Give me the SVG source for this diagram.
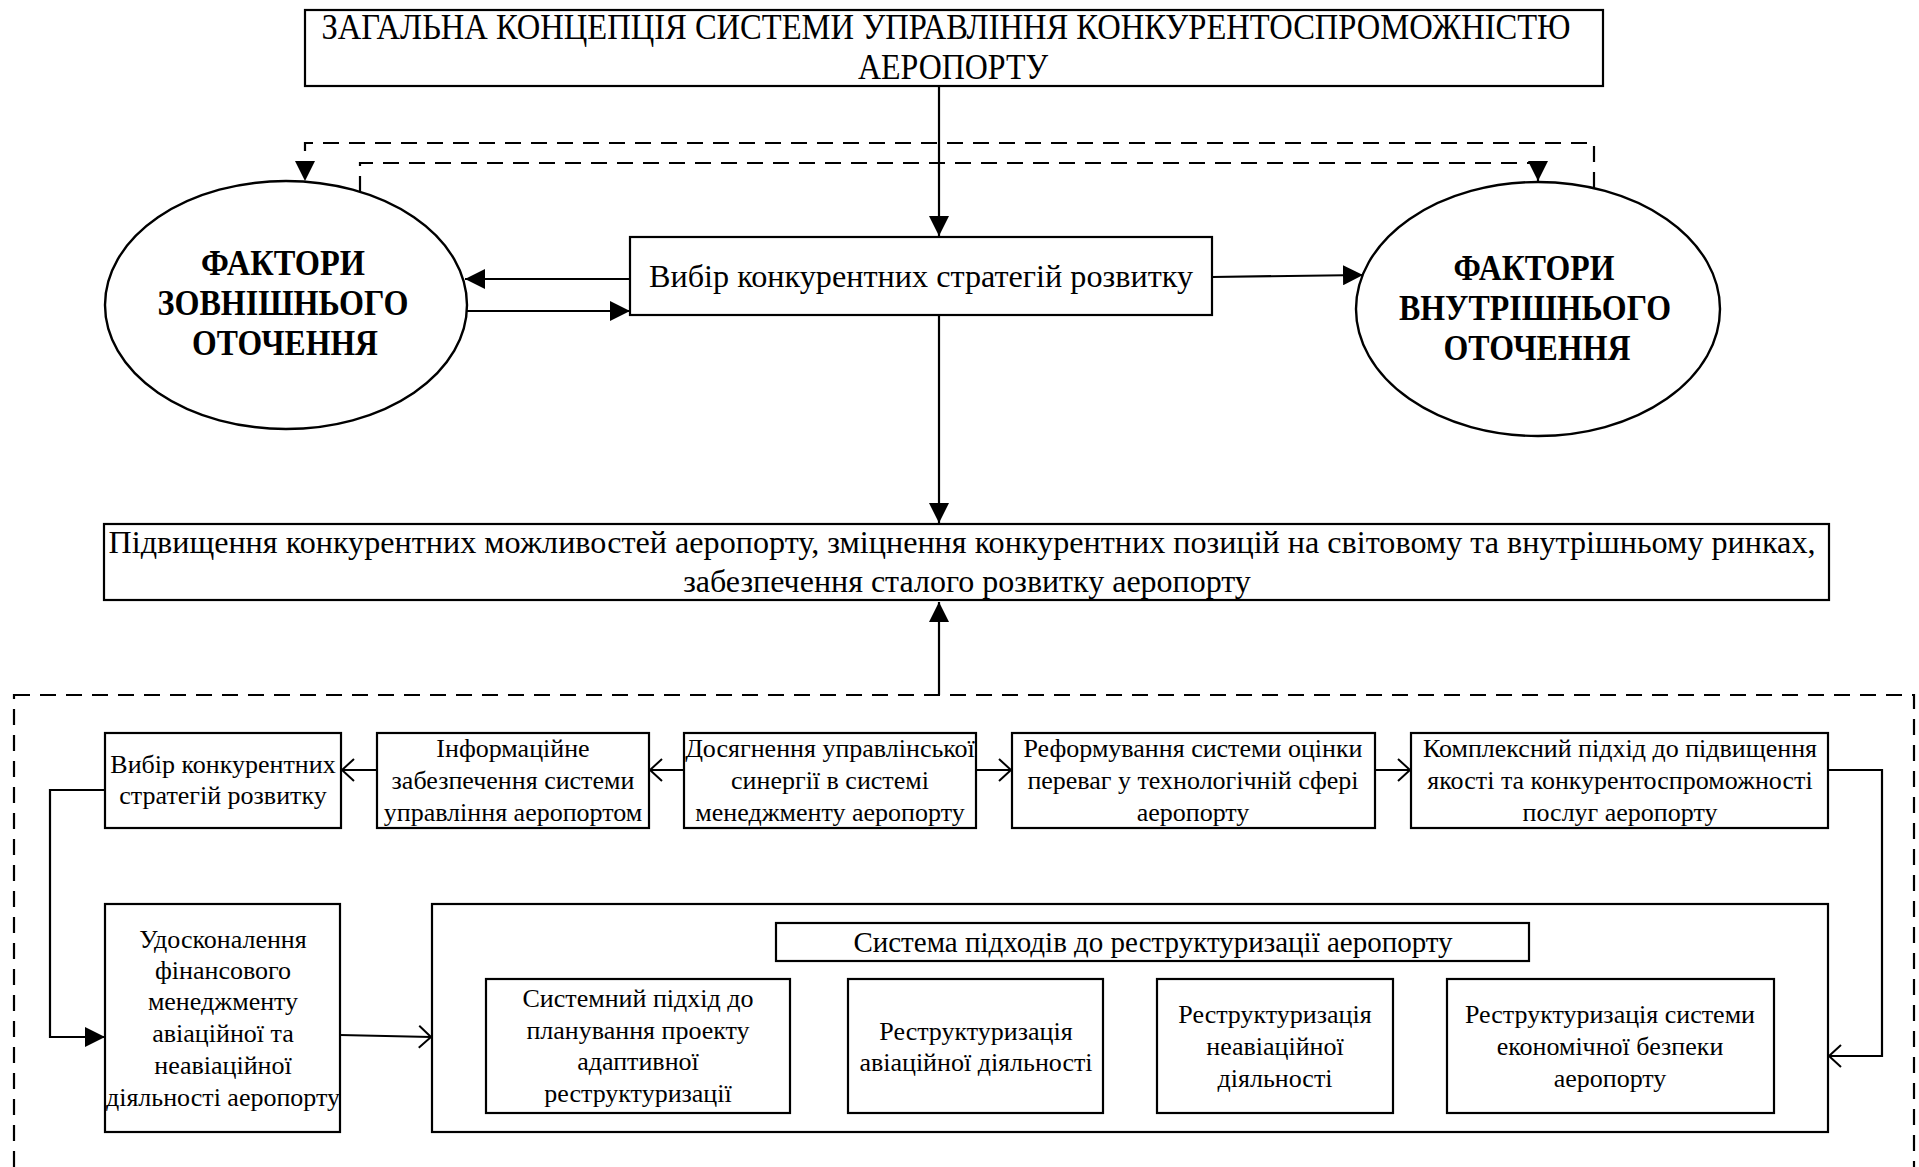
<svg xmlns="http://www.w3.org/2000/svg" width="1919" height="1167" viewBox="0 0 1919 1167">
  <defs>
    <style>
      .box { fill: #fff; stroke: #000; stroke-width: 2.2; }
      .oval { fill: #fff; stroke: #000; stroke-width: 2.4; }
      .t { font-family: "Liberation Serif", "Times New Roman", serif; fill: #000; text-anchor: middle; }
      .s26 { font-size: 26px; }
      .s29 { font-size: 29px; }
      .s32 { font-size: 32px; }
      .cap { font-size: 36px; }
      .bold { font-size: 36px; font-weight: bold; }
      .line { fill: none; stroke: #000; stroke-width: 2.2; }
      .dash { fill: none; stroke: #000; stroke-width: 2.2; stroke-dasharray: 16 10; }
    </style>
    <marker id="solid" markerUnits="userSpaceOnUse" markerWidth="20" markerHeight="20" refX="20" refY="10" orient="auto">
      <path d="M0,0 L20,10 L0,20 Z" fill="#000" stroke="none"/>
    </marker>
    <marker id="open" markerUnits="userSpaceOnUse" markerWidth="16" markerHeight="26" refX="13" refY="12" orient="auto">
      <path d="M1,1 L13,12 L1,23" fill="none" stroke="#000" stroke-width="2"/>
    </marker>
  </defs>

  <rect width="1919" height="1167" fill="#fff"/>

  <!-- outer dashed frame of the lower block -->
  <rect id="frame" x="14" y="695" width="1900" height="520" class="dash"/>

  <!-- connectors -->
  <g id="connectors">
    <line x1="939" y1="86" x2="939" y2="236" class="line" marker-end="url(#solid)"/>
    <line x1="630" y1="279" x2="465" y2="279" class="line" marker-end="url(#solid)"/>
    <line x1="467" y1="311" x2="630" y2="311" class="line" marker-end="url(#solid)"/>
    <line x1="1212" y1="277" x2="1363" y2="275" class="line" marker-end="url(#solid)"/>
    <path d="M1594,188 V143 H305 V181" class="dash" marker-end="url(#solid)"/>
    <path d="M360,192 V163 H1538 V181" class="dash" marker-end="url(#solid)"/>
    <line x1="939" y1="315" x2="939" y2="523" class="line" marker-end="url(#solid)"/>
    <line x1="939" y1="695" x2="939" y2="602" class="line" marker-end="url(#solid)"/>

    <line x1="377" y1="770" x2="342" y2="770" class="line" marker-end="url(#open)"/>
    <line x1="683" y1="770" x2="650" y2="770" class="line" marker-end="url(#open)"/>
    <line x1="976" y1="770" x2="1011" y2="770" class="line" marker-end="url(#open)"/>
    <line x1="1375" y1="770" x2="1410" y2="770" class="line" marker-end="url(#open)"/>
    <path d="M1828,770 H1882 V1056 H1829" class="line" marker-end="url(#open)"/>
    <path d="M105,790 H50 V1037 H105" class="line" marker-end="url(#solid)"/>
    <line x1="340" y1="1035" x2="431" y2="1037" class="line" marker-end="url(#open)"/>
    <line x1="790" y1="1036" x2="847" y2="1036" class="line" marker-end="url(#open)"/>
    <line x1="1103" y1="1036" x2="1156" y2="1036" class="line" marker-end="url(#open)"/>
    <line x1="1393" y1="1036" x2="1446" y2="1036" class="line" marker-end="url(#open)"/>
  </g>

  <g id="concept">
    <rect x="305" y="10" width="1298" height="76" class="box" stroke-width="2.6"/>
    <text class="t cap" x="946" y="39" textLength="1249" lengthAdjust="spacingAndGlyphs">ЗАГАЛЬНА КОНЦЕПЦІЯ СИСТЕМИ УПРАВЛІННЯ КОНКУРЕНТОСПРОМОЖНІСТЮ</text>
    <text class="t cap" x="953" y="79" textLength="190" lengthAdjust="spacingAndGlyphs">АЕРОПОРТУ</text>
  </g>

  <g id="external-factors">
    <ellipse cx="286" cy="305" rx="181" ry="124" class="oval"/>
    <text class="t bold" x="283" y="275" textLength="164" lengthAdjust="spacingAndGlyphs">ФАКТОРИ</text>
    <text class="t bold" x="283" y="315" textLength="251" lengthAdjust="spacingAndGlyphs">ЗОВНІШНЬОГО</text>
    <text class="t bold" x="285" y="355" textLength="186" lengthAdjust="spacingAndGlyphs">ОТОЧЕННЯ</text>
  </g>

  <g id="strategy-choice">
    <rect x="630" y="237" width="582" height="78" class="box"/>
    <text class="t s32" x="921" y="287" textLength="544" lengthAdjust="spacingAndGlyphs">Вибір конкурентних стратегій розвитку</text>
  </g>

  <g id="internal-factors">
    <ellipse cx="1538" cy="309" rx="182" ry="127" class="oval"/>
    <text class="t bold" x="1534" y="280" textLength="161" lengthAdjust="spacingAndGlyphs">ФАКТОРИ</text>
    <text class="t bold" x="1535" y="320" textLength="272" lengthAdjust="spacingAndGlyphs">ВНУТРІШНЬОГО</text>
    <text class="t bold" x="1537" y="360" textLength="187" lengthAdjust="spacingAndGlyphs">ОТОЧЕННЯ</text>
  </g>

  <g id="goal">
    <rect x="104" y="524" width="1725" height="76" class="box" stroke-width="2.6"/>
    <text class="t s32" x="962" y="553" textLength="1707" lengthAdjust="spacingAndGlyphs">Підвищення конкурентних можливостей аеропорту, зміцнення конкурентних позицій на світовому та внутрішньому ринках,</text>
    <text class="t s32" x="967" y="592">забезпечення сталого розвитку аеропорту</text>
  </g>

  <g id="strategy-box">
    <rect x="105" y="733" width="236" height="95" class="box"/>
    <text class="t s26" x="223" y="773">Вибір конкурентних</text>
    <text class="t s26" x="223" y="804">стратегій розвитку</text>
  </g>

  <g id="information">
    <rect x="377" y="733" width="272" height="95" class="box"/>
    <text class="t s26" x="513" y="757">Інформаційне</text>
    <text class="t s26" x="513" y="789">забезпечення системи</text>
    <text class="t s26" x="513" y="821">управління аеропортом</text>
  </g>

  <g id="synergy">
    <rect x="684" y="733" width="292" height="95" class="box"/>
    <text class="t s26" x="830" y="757">Досягнення управлінської</text>
    <text class="t s26" x="830" y="789">синергії в системі</text>
    <text class="t s26" x="830" y="821">менеджменту аеропорту</text>
  </g>

  <g id="reform">
    <rect x="1012" y="733" width="363" height="95" class="box"/>
    <text class="t s26" x="1193" y="757">Реформування системи оцінки</text>
    <text class="t s26" x="1193" y="789">переваг у технологічній сфері</text>
    <text class="t s26" x="1193" y="821">аеропорту</text>
  </g>

  <g id="quality">
    <rect x="1411" y="733" width="417" height="95" class="box"/>
    <text class="t s26" x="1620" y="757">Комплексний підхід до підвищення</text>
    <text class="t s26" x="1620" y="789">якості та конкурентоспроможності</text>
    <text class="t s26" x="1620" y="821">послуг аеропорту</text>
  </g>

  <g id="finance">
    <rect x="105" y="904" width="235" height="228" class="box"/>
    <text class="t s26" x="223" y="948">Удосконалення</text>
    <text class="t s26" x="223" y="979">фінансового</text>
    <text class="t s26" x="223" y="1010">менеджменту</text>
    <text class="t s26" x="223" y="1042">авіаційної та</text>
    <text class="t s26" x="223" y="1074">неавіаційної</text>
    <text class="t s26" x="223" y="1106">діяльності аеропорту</text>
  </g>

  <g id="restructuring-system">
    <rect x="432" y="904" width="1396" height="228" class="box"/>
    <rect x="776" y="923" width="753" height="38" class="box"/>
    <text class="t s29" x="1153" y="952">Система підходів до реструктуризації аеропорту</text>
  </g>

  <g id="planning">
    <rect x="486" y="979" width="304" height="134" class="box"/>
    <text class="t s26" x="638" y="1007">Системний підхід до</text>
    <text class="t s26" x="638" y="1039">планування проекту</text>
    <text class="t s26" x="638" y="1070">адаптивної</text>
    <text class="t s26" x="638" y="1102">реструктуризації</text>
  </g>

  <g id="aviation">
    <rect x="848" y="979" width="255" height="134" class="box"/>
    <text class="t s26" x="976" y="1040">Реструктуризація</text>
    <text class="t s26" x="976" y="1071">авіаційної діяльності</text>
  </g>

  <g id="non-aviation">
    <rect x="1157" y="979" width="236" height="134" class="box"/>
    <text class="t s26" x="1275" y="1023">Реструктуризація</text>
    <text class="t s26" x="1275" y="1055">неавіаційної</text>
    <text class="t s26" x="1275" y="1087">діяльності</text>
  </g>

  <g id="security">
    <rect x="1447" y="979" width="327" height="134" class="box"/>
    <text class="t s26" x="1610" y="1023">Реструктуризація системи</text>
    <text class="t s26" x="1610" y="1055">економічної безпеки</text>
    <text class="t s26" x="1610" y="1087">аеропорту</text>
  </g>
</svg>
